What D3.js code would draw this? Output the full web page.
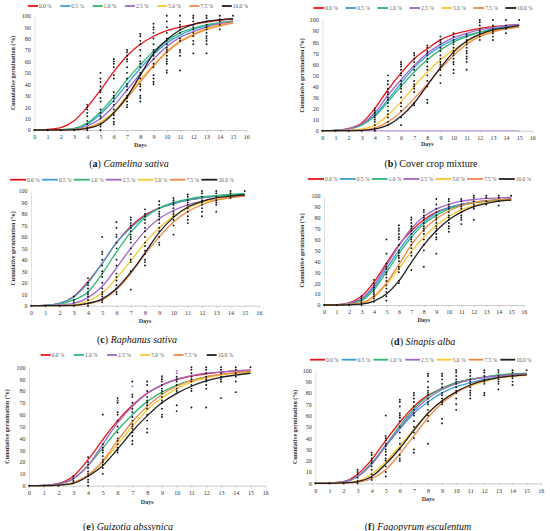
<!DOCTYPE html>
<html>
<head>
<meta charset="utf-8">
<script src="https://cdn.jsdelivr.net/npm/d3@7"></script>
<style>
  body { margin: 0; background: #fff; }
  svg { display: block; }
</style>
</head>
<body>
<div id="chart"></div>
<script>
// shared axes / legend values
const days = [0, 1, 2, 3, 4, 5, 6, 7, 8, 9, 10, 11, 12, 13, 14, 15];
const dayTicks = [0, 1, 2, 3, 4, 5, 6, 7, 8, 9, 10, 11, 12, 13, 14, 15, 16];
const pctTicks = [0, 10, 20, 30, 40, 50, 60, 70, 80, 90, 100];
const concLabels = ['0.0 %', '0.5 %', '1.0 %', '2.5 %', '5.0 %', '7.5 %', '10.0 %'];
const concColors = ['#e8151b', '#3b9fd9', '#2eb872', '#a066c9', '#f7c830', '#f0884a', '#231f20'];

// (a) Camelina sativa - fitted curves, one per concentration
const camelinaCurves = [
  [0, 0.5, 2, 8, 20, 35, 51, 65, 75, 82, 87, 90, 92.5, 94.5, 96, 97],
  [0, 0, 0.2, 1.2, 5, 14, 26, 40, 54, 66, 76, 83, 88, 91, 93, 95],
  [0, 0, 0.3, 1.5, 6, 16, 29, 44, 57, 69, 78, 85, 89, 92, 94, 95.5],
  [0, 0, 0.1, 0.8, 3.5, 10, 21, 35, 49, 62, 73, 81, 86, 90, 93, 94.5],
  [0, 0, 0, 0.3, 2, 7, 16, 30, 44, 57, 69, 78, 84, 89, 92, 94],
  [0, 0, 0, 0.3, 1.8, 6, 15, 28, 42, 56, 68, 77, 83, 88, 91, 93.5],
  [0, 0, 0, 0.3, 1.5, 5, 15, 29, 48, 67, 79, 87.5, 92.5, 95, 96.5, 97.5]
];
const camelinaDots = [
  [0, [0]], [1, [0]], [2, [0]], [3, [0]],
  [4, [0, 2, 5, 8, 12, 15, 18, 20, 22]],
  [5, [0, 3, 5, 10, 12, 15, 18, 25, 28, 33, 35, 38, 42, 45, 50]],
  [6, [5, 7, 10, 13, 15, 18, 22, 25, 28, 30, 33, 45, 48, 55, 58, 60, 62]],
  [7, [20, 22, 25, 28, 30, 35, 38, 40, 45, 50, 55, 60, 62, 65, 68, 70]],
  [8, [25, 28, 30, 35, 38, 40, 45, 48, 50, 55, 58, 60, 65, 70, 75, 78, 82, 84]],
  [9, [40, 42, 45, 48, 55, 58, 62, 65, 68, 70, 75, 80, 85, 88, 90, 93]],
  [10, [50, 52, 58, 60, 62, 65, 68, 70, 72, 75, 78, 80, 85, 90, 95, 100]],
  [11, [52, 65, 68, 70, 78, 80, 85, 88, 90, 92, 95, 100]],
  [12, [67, 75, 78, 82, 85, 88, 90, 92, 95, 98, 100]],
  [13, [67, 75, 78, 80, 82, 85, 88, 90, 92, 95, 98, 100]],
  [14, [88, 92, 95, 97, 100]],
  [15, [100]]
];

// (b) Cover crop mixture
const coverCurves = [
  [0, 0.3, 2, 7, 20, 37, 52, 65, 74, 82, 87, 90, 92.5, 94, 95, 96],
  [0, 0.2, 1.5, 5.5, 14, 28, 43, 57, 68, 76, 82, 86, 89, 92, 94, 95],
  [0, 0.2, 1.5, 5, 13, 26, 40, 53, 64, 73, 80, 85, 89, 91, 93, 95],
  [0, 0.2, 1.5, 6, 16, 32, 46, 59, 70, 78, 84, 88, 91, 93, 95, 96],
  [0, 0, 0.5, 1.5, 5, 14, 26, 40, 53, 64, 73, 80, 86, 90, 92, 94],
  [0, 0, 0.2, 0.5, 2.5, 8, 17, 29, 42, 56, 68, 78, 85, 89, 92, 93.5],
  [0, 0, 0.1, 0.3, 1.5, 5, 13, 25, 41, 57, 71, 81, 87, 91, 93, 95]
];
const coverBaseline = [0, 0, 0, 0, 0, 0, 0, 0, 0, 0, 0, 0, 0, 0, 0, 0];
const coverDots = [
  [0, [0]], [1, [0]], [2, [0]], [3, [0]],
  [4, [0, 2, 5, 8, 10, 12, 14, 16, 18, 20]],
  [5, [5, 8, 12, 15, 18, 22, 25, 28, 30, 33, 35, 38, 42, 45, 50]],
  [6, [5, 12, 18, 22, 25, 30, 35, 38, 40, 42, 45, 50, 52, 55, 58, 60, 62]],
  [7, [23, 25, 35, 38, 40, 42, 45, 50, 55, 58, 62, 65, 68, 70]],
  [8, [25, 28, 40, 45, 50, 55, 58, 62, 65, 68, 70, 72, 75, 77]],
  [9, [43, 50, 55, 58, 60, 62, 65, 68, 72, 75, 78, 80, 82, 85]],
  [10, [52, 55, 60, 62, 65, 68, 70, 72, 75, 78, 80, 82, 85, 88]],
  [11, [55, 62, 65, 67, 70, 72, 75, 78, 80, 82, 85, 87]],
  [12, [82, 85, 88, 90, 92, 95, 98, 100]],
  [13, [82, 85, 88, 90, 92, 95, 100]],
  [14, [88, 92, 95, 100]],
  [15, [100]]
];

// (c) Raphanus sativa
const raphanusCurves = [
  [0, 0.3, 2, 8, 21, 37, 55, 69, 79, 85, 89, 92, 94, 95.5, 96.5, 97],
  [0, 0.3, 2, 7.5, 20, 37, 55, 68, 78, 85, 89, 92, 94, 95.5, 96.5, 97],
  [0, 0.2, 1.2, 5, 12, 28, 47, 64, 77, 85, 90, 93, 95, 96, 97, 98],
  [0, 0.1, 0.6, 2, 7, 17, 33, 50, 65, 76, 83, 88, 91, 93, 95, 96],
  [0, 0, 0.2, 0.8, 4, 11, 24, 39, 55, 68, 78, 85, 90, 93, 95, 96],
  [0, 0, 0.1, 0.3, 1.8, 5, 14, 28, 45, 60, 73, 82, 88, 92, 94, 95.5],
  [0, 0, 0.1, 0.3, 2, 6, 15, 29, 46, 64, 77, 86, 91, 94, 95.5, 96.5]
];
const raphanusDots = [
  [0, [0]], [1, [0]], [2, [0]], [3, [0, 3, 5, 8]],
  [4, [0, 2, 5, 8, 10, 12, 15, 18, 20, 24]],
  [5, [3, 5, 8, 10, 12, 15, 20, 25, 28, 30, 35, 40, 45, 47, 60]],
  [6, [10, 12, 15, 18, 22, 25, 28, 35, 40, 50, 55, 60, 62, 68, 73]],
  [7, [14, 30, 38, 40, 45, 50, 55, 58, 60, 62, 65, 68, 70, 72, 75, 77]],
  [8, [35, 38, 40, 45, 48, 52, 55, 60, 65, 68, 72, 75, 78, 80, 84]],
  [9, [53, 55, 60, 65, 68, 72, 75, 78, 80, 82, 85, 88, 91]],
  [10, [62, 70, 75, 78, 80, 82, 85, 88, 90, 92, 94]],
  [11, [72, 75, 78, 82, 85, 88, 90, 92, 95, 97]],
  [12, [78, 82, 85, 88, 90, 92, 95, 98, 100]],
  [13, [82, 88, 90, 92, 95, 98, 100]],
  [14, [94, 96, 98, 100]],
  [15, [100]]
];

// (d) Sinapis alba
const sinapisCurves = [
  [0, 0.3, 2, 8, 21, 38, 55, 68, 78, 85, 89, 92, 94, 95, 96, 97],
  [0, 0.2, 1.5, 5, 16, 33, 50, 65, 76, 84, 89, 92, 94, 95.5, 96.5, 97],
  [0, 0.2, 1.2, 4, 14, 30, 47, 62, 74, 82, 88, 91, 93.5, 95, 96, 97],
  [0, 0.2, 1.5, 6, 18, 36, 54, 70, 81, 88, 92, 95, 96.5, 97.5, 98, 98.5],
  [0, 0, 0.5, 1.5, 7, 19, 33, 49, 62, 73, 81, 87, 91, 93.5, 95, 96],
  [0, 0, 0.5, 2, 8, 20, 37, 55, 69, 79, 86, 91, 94, 95.5, 96.5, 97],
  [0, 0, 0.2, 0.8, 3.5, 10, 22, 39, 55, 68, 78, 85, 90, 93, 95, 96]
];
const sinapisDots = [
  [0, [0]], [1, [0]], [2, [0]], [3, [0, 2, 4, 6, 8]],
  [4, [3, 6, 8, 10, 12, 14, 16, 18, 20, 23]],
  [5, [4, 8, 12, 15, 18, 22, 25, 28, 30, 33, 35, 38, 47, 60]],
  [6, [20, 22, 30, 33, 35, 40, 43, 45, 48, 50, 55, 60, 62, 65, 68, 70, 73]],
  [7, [32, 45, 48, 52, 55, 58, 60, 62, 65, 68, 70, 72, 75, 78, 80]],
  [8, [35, 50, 55, 60, 65, 68, 70, 72, 75, 78, 80, 82, 85, 87]],
  [9, [47, 60, 62, 65, 68, 70, 72, 75, 78, 80, 82, 85, 88, 92, 97]],
  [10, [67, 70, 72, 75, 78, 80, 82, 85, 88, 90, 92, 95, 97]],
  [11, [74, 78, 80, 82, 85, 88, 90, 92, 95, 97]],
  [12, [78, 88, 90, 92, 95, 98, 100]],
  [13, [92, 95, 98, 100]],
  [14, [91, 95, 98, 100]],
  [15, [100]]
];

// (e) Guizotia abssynica (no 0.5 % series)
const guizotiaCurves = [
  [0, 0.3, 2, 8, 22, 39, 55, 68, 78, 85, 89.5, 92.5, 94.5, 96, 97, 97.5],
  null,
  [0, 0.3, 1.5, 6, 17, 32, 47, 60, 71, 79, 85, 89, 92, 94, 95.5, 96.5],
  [0, 0.3, 1.5, 6, 17, 35, 53, 67, 78, 85, 90, 93, 95, 96, 97, 97.5],
  [0, 0, 0.5, 2.5, 9, 20, 35, 50, 64, 74, 82, 87.5, 91, 93.5, 95, 96],
  [0, 0, 0.5, 2.5, 9, 21, 38, 54, 67, 77, 84, 89, 92, 94, 95.5, 96.5],
  [0, 0, 0.5, 2, 8, 17, 31, 46, 59, 70, 78, 84, 88.5, 91.5, 93.5, 95]
];
const guizotiaDots = [
  [0, [0]], [1, [0]], [2, [0]], [3, [2, 4, 6, 8]],
  [4, [0, 3, 5, 8, 10, 12, 15, 18, 20, 24]],
  [5, [10, 15, 18, 20, 22, 25, 28, 30, 32, 35, 60]],
  [6, [28, 30, 32, 35, 38, 40, 45, 50, 55, 60, 62, 70, 72, 74]],
  [7, [35, 38, 42, 45, 48, 50, 52, 55, 58, 62, 65, 70, 75, 77, 88]],
  [8, [45, 48, 55, 60, 65, 68, 70, 72, 75, 80, 85, 88]],
  [9, [58, 60, 65, 70, 72, 75, 78, 80, 82, 85, 88, 90, 92]],
  [10, [63, 68, 78, 80, 82, 85, 88, 90, 92]],
  [11, [66, 80, 82, 85, 88, 90, 92, 95, 98, 100]],
  [12, [66, 82, 85, 88, 90, 92, 95, 98, 100]],
  [13, [74, 88, 90, 92, 95, 98, 100]],
  [14, [79, 88, 92, 95, 98, 100]],
  [15, [100]]
];
const guizotiaPurpleDots = [[6, 72], [7, 84], [9, 93], [10, 95], [10, 97]];

// (f) Fagopyrum esculentum
const fagopyrumCurves = [
  [0, 0.3, 1.5, 8, 21, 38, 54, 68, 78, 84, 89, 92, 94, 95.5, 96.5, 97],
  [0, 0.3, 1.2, 6, 17, 33, 48, 62, 72, 80, 85.5, 89, 92, 94, 95, 96],
  [0, 0.3, 1.2, 6, 18, 34, 51, 66, 77, 84, 89, 92, 94, 96, 97, 97.5],
  [0, 0.3, 1.2, 6, 17, 33, 49, 64, 75, 83, 88, 91.5, 93.5, 95, 96, 97],
  [0, 0, 0.5, 2, 8, 19, 33, 48, 62, 73, 81, 86, 90, 93, 94.5, 95.5],
  [0, 0, 0.2, 1, 4, 12, 26, 42, 58, 71, 80, 87, 91, 93.5, 95, 96],
  [0, 0, 0.3, 1.5, 6, 17, 31, 47, 62, 73, 81, 87, 91, 93.5, 95, 96]
];
const fagopyrumDots = [
  [0, [0]], [1, [0]], [2, [0]], [3, [0, 2, 5, 8, 10, 12]],
  [4, [3, 5, 8, 12, 15, 18, 20, 22, 25, 27]],
  [5, [6, 10, 15, 20, 22, 25, 28, 30, 33, 35, 38, 40, 42, 60]],
  [6, [20, 22, 25, 30, 35, 40, 45, 50, 55, 58, 60, 62, 68, 72, 74]],
  [7, [27, 30, 40, 45, 50, 55, 60, 62, 65, 68, 72, 75, 78, 80]],
  [8, [35, 55, 60, 65, 70, 72, 75, 78, 80, 82, 85, 90, 95, 97]],
  [9, [53, 57, 70, 72, 75, 78, 80, 85, 88, 92, 95, 97]],
  [10, [65, 70, 75, 80, 82, 85, 88, 90, 92, 95, 98, 100]],
  [11, [75, 78, 80, 82, 85, 88, 90, 92, 95, 98, 100]],
  [12, [78, 80, 88, 90, 92, 95, 98, 100]],
  [13, [83, 88, 90, 92, 95, 98, 100]],
  [14, [87, 90, 93, 95, 98, 100]],
  [15, [100]]
];

const W = 550, H = 531;
const serif = '"Liberation Serif", "Times New Roman", serif';

const panels = [
  { letter: 'a', name: 'Camelina sativa', italic: true, curves: camelinaCurves, dots: camelinaDots,
    x0: 34.3, x1: 246.3, yTop: 15.7, yBot: 130, ylabX: 13.3,
    legY: 6, legX: 28, legLen: 10, legStep: 32.3, daysY: 147, capX: 129, capY: 167 },
  { letter: 'b', name: 'Cover crop mixture', italic: false, curves: coverCurves, dots: coverDots, baseline: coverBaseline,
    x0: 322.3, x1: 532.3, yTop: 20, yBot: 130.7, ylabX: 302.3,
    legY: 8, legX: 313.3, legLen: 11, legStep: 32, daysY: 146, capX: 431, capY: 167 },
  { letter: 'c', name: 'Raphanus sativa', italic: true, curves: raphanusCurves, dots: raphanusDots,
    x0: 31, x1: 259, yTop: 191, yBot: 305.7, ylabX: 12.7,
    legY: 179.7, legX: 10, legLen: 16, legStep: 31.9, daysY: 323, capX: 137, capY: 343 },
  { letter: 'd', name: 'Sinapis alba', italic: true, curves: sinapisCurves, dots: sinapisDots,
    x0: 324, x1: 523.7, yTop: 195.7, yBot: 305, ylabX: 301.7,
    legY: 179, legX: 308, legLen: 16, legStep: 31.8, daysY: 322, capX: 423, capY: 345 },
  { letter: 'e', name: 'Guizotia abssynica', italic: true, curves: guizotiaCurves, dots: guizotiaDots, purple: guizotiaPurpleDots,
    x0: 29, x1: 265.3, yTop: 367.3, yBot: 485.7, ylabX: 7.3,
    legY: 355, legX: 40.7, legLen: 10, legStep: 33.2, daysY: 503.5, capX: 128, capY: 530 },
  { letter: 'f', name: 'Fagopyrum esculentum', italic: true, curves: fagopyrumCurves, dots: fagopyrumDots,
    x0: 315.3, x1: 540.7, yTop: 370.3, yBot: 483.3, ylabX: 295,
    legY: 359.7, legX: 310, legLen: 15, legStep: 31.7, daysY: 501, capX: 418, capY: 530 }
];

const svg = d3.select('#chart')
  .append('svg')
    .attr('width', W)
    .attr('height', H)
    .style('font-family', serif);

function drawPanel(p) {
  const g = svg.append('g');

  const x = d3.scaleLinear().domain([0, 16]).range([p.x0, p.x1]);
  const y = d3.scaleLinear().domain([0, 100]).range([p.yBot, p.yTop]);

  // y axis
  const ya = g.append('g')
    .attr('transform', `translate(${p.x0},0)`)
    .call(d3.axisLeft(y).tickValues(pctTicks).tickSize(0).tickPadding(3.5));
  ya.select('.domain').attr('stroke', '#d9d9d9').attr('stroke-width', 0.8);
  ya.selectAll('text').attr('font-size', '6px').attr('fill', '#333').attr('font-family', serif);

  // x axis
  const xa = g.append('g')
    .attr('transform', `translate(0,${p.yBot})`)
    .call(d3.axisBottom(x).tickValues(dayTicks).tickSize(2).tickSizeOuter(0).tickPadding(3));
  xa.select('.domain').attr('stroke', '#bfbfbf').attr('stroke-width', 0.8);
  xa.selectAll('line').attr('stroke', '#bfbfbf').attr('stroke-width', 0.8);
  xa.selectAll('text').attr('font-size', '6px').attr('fill', '#333').attr('font-family', serif);

  // axis titles
  g.append('text')
    .attr('transform', `translate(${p.ylabX},${(p.yTop + p.yBot) / 2}) rotate(-90)`)
    .attr('text-anchor', 'middle')
    .attr('dy', '0.35em')
    .attr('font-size', '6px')
    .attr('font-weight', 'bold')
    .attr('fill', '#333')
    .text('Cumulative germination (%)');

  g.append('text')
    .attr('x', x(8))
    .attr('y', p.daysY)
    .attr('text-anchor', 'middle')
    .attr('font-size', '6px')
    .attr('font-weight', 'bold')
    .attr('fill', '#333')
    .text('Days');

  const line = d3.line()
    .x((d, i) => x(days[i]))
    .y(d => y(d))
    .curve(d3.curveMonotoneX);

  if (p.baseline) {
    g.append('path')
      .attr('d', line(p.baseline))
      .attr('fill', 'none')
      .attr('stroke', '#c9a8e3')
      .attr('stroke-width', 1.2);
  }

  // fitted curves
  p.curves.forEach((c, k) => {
    if (!c) return;
    g.append('path')
      .attr('d', line(c))
      .attr('fill', 'none')
      .attr('stroke', concColors[k])
      .attr('stroke-width', 1.3);
  });

  // observed values
  const pts = [];
  p.dots.forEach(([d, vals]) => vals.forEach(v => pts.push([d, v])));
  g.append('g')
    .selectAll('circle')
    .data(pts)
    .join('circle')
      .attr('cx', d => x(d[0]))
      .attr('cy', d => y(d[1]))
      .attr('r', 0.95)
      .attr('fill', '#111');

  if (p.purple) {
    g.append('g')
      .selectAll('circle')
      .data(p.purple)
      .join('circle')
        .attr('cx', d => x(d[0]))
        .attr('cy', d => y(d[1]))
        .attr('r', 0.95)
        .attr('fill', '#a066c9');
  }

  // legend
  const keys = p.curves.map((c, k) => c ? k : -1).filter(k => k >= 0);
  const leg = g.append('g')
    .selectAll('g')
    .data(keys)
    .join('g')
      .attr('transform', (k, i) => `translate(${p.legX + i * p.legStep},${p.legY})`);
  leg.append('line')
    .attr('x1', 0).attr('x2', p.legLen)
    .attr('stroke', k => concColors[k])
    .attr('stroke-width', 1.8);
  leg.append('text')
    .attr('x', p.legLen + 1)
    .attr('dy', '0.35em')
    .attr('font-size', '5.4px')
    .attr('fill', '#595959')
    .text(k => concLabels[k]);

  // caption
  const cap = g.append('text')
    .attr('x', p.capX)
    .attr('y', p.capY)
    .attr('text-anchor', 'middle')
    .attr('font-size', '10px')
    .attr('fill', '#111');
  cap.append('tspan').text('(');
  cap.append('tspan').attr('font-weight', 'bold').text(p.letter);
  cap.append('tspan').text(') ');
  cap.append('tspan').attr('font-style', p.italic ? 'italic' : 'normal').text(p.name);
}

panels.forEach(drawPanel);
</script>
</body>
</html>
